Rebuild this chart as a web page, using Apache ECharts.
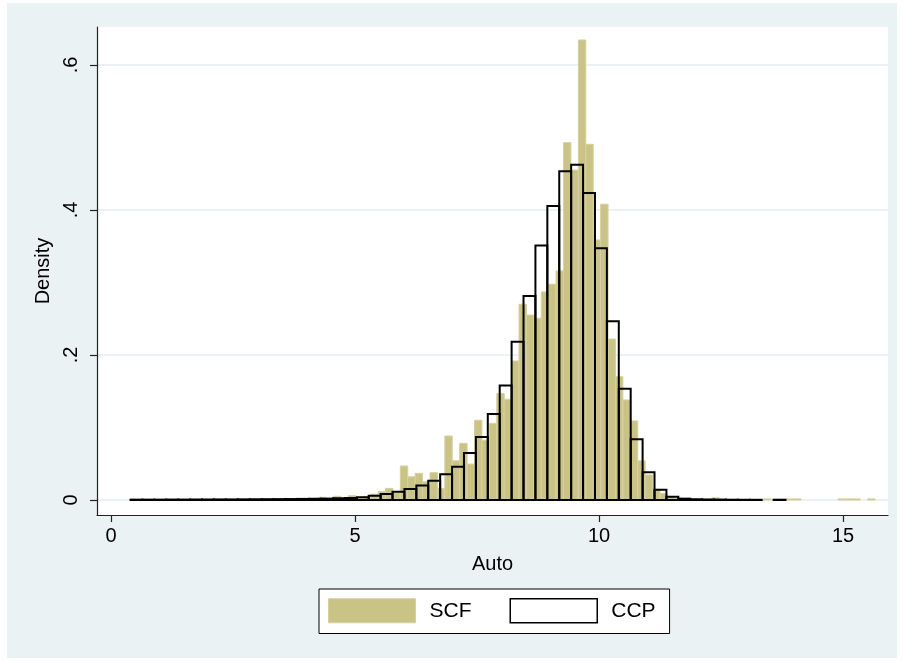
<!DOCTYPE html>
<html>
<head>
<meta charset="utf-8">
<script src="https://cdn.jsdelivr.net/npm/echarts@6/dist/echarts.min.js"></script>
<style>
  html, body { margin: 0; padding: 0; background: #ffffff; }
  #frame { position: absolute; left: 7px; top: 3px; width: 890px; height: 655px; background: #eaf2f3; }
  #chart { position: absolute; left: 0; top: 0; width: 904px; height: 661px; }
</style>
</head>
<body>
<div id="frame"></div>
<div id="chart"></div>
<script>
// Histogram of log auto value: SCF (filled) vs CCP (outlined), density scale.
const seriesNames = ['SCF', 'CCP'];

// SCF bins: start and width in log units, one density per bin
const scfStart = 0.0;
const scfWidth = 0.152;
const scfDensity = [
  0, 0, 0, 0.0004, 0.0004, 0.0005, 0.0004, 0.0005, 0.0005, 0.0006,
  0.0005, 0.0006, 0.0006, 0.0007, 0.0006, 0.0007, 0.0008, 0.0007, 0.0008, 0.0009,
  0.0008, 0.0010, 0.0009, 0.0011, 0.0012, 0.0014, 0.0012, 0.0010, 0.0037, 0.0012,
  0.0051, 0.0015, 0.0060, 0.0030, 0.0050, 0.0080, 0.0115, 0.0160, 0.0100, 0.0469,
  0.0320, 0.0368, 0.0250, 0.0377, 0.0160, 0.0883, 0.0540, 0.0782, 0.0495, 0.1100,
  0.0823, 0.1058, 0.1470, 0.1390, 0.1917, 0.2700, 0.2550, 0.2506, 0.2870, 0.2975,
  0.3160, 0.4929, 0.4550, 0.6345, 0.4906, 0.3586, 0.4080, 0.2220, 0.1700, 0.1380,
  0.1090, 0.0540, 0.0345, 0.0147, 0.0092, 0.0046, 0.0028, 0.0023, 0.0018, 0.0010,
  0.0010, 0.0030, 0.0012, 0.0006, 0.0005, 0.0005, 0.0004, 0.0004, 0.0015, 0,
  0, 0.0015, 0.0015, 0, 0, 0, 0, 0, 0.0015, 0.0015,
  0.0015, 0, 0.0015
];

// CCP bins
const ccpStart = 0.40;
const ccpWidth = 0.244;
const ccpDensity = [
  0.0005, 0.0005, 0.0005, 0.0006, 0.0006, 0.0007, 0.0007, 0.0008, 0.0008, 0.0009,
  0.0010, 0.0011, 0.0012, 0.0013, 0.0015, 0.0017, 0.0019, 0.0024, 0.0029, 0.0037,
  0.0060, 0.0083, 0.0115, 0.0152, 0.0200, 0.0264, 0.0354, 0.0460, 0.0648, 0.0869,
  0.1186, 0.1580, 0.2184, 0.2812, 0.3510, 0.4055, 0.4533, 0.4625, 0.4234, 0.3471,
  0.2465, 0.1536, 0.0837, 0.0382, 0.0142, 0.0046, 0.0018, 0.0010, 0.0007, 0.0005,
  0.0004, 0.0003, 0.0003, 0, 0.0004
];

const xTicks = [0, 5, 10, 15];
const yTicks = [0, 0.2, 0.4, 0.6];

const FONT = "'Liberation Sans', Arial, Helvetica, sans-serif";
const SCF_FILL = '#cac386';
const SCF_EDGE = '#d6d09f';

// [left edge, right edge, density] rows for a custom series
function toBins(start, width, values) {
  return values.map((v, i) => [start + i * width, start + (i + 1) * width, v]);
}

function histRenderer(style) {
  return function (params, api) {
    const v = api.value(2);
    if (!(v > 0)) return null;
    const topLeft = api.coord([api.value(0), v]);
    const bottomRight = api.coord([api.value(1), 0]);
    return {
      type: 'rect',
      shape: {
        x: topLeft[0],
        y: topLeft[1],
        width: bottomRight[0] - topLeft[0],
        height: bottomRight[1] - topLeft[1]
      },
      style: style
    };
  };
}

function fmtY(v) {
  if (v === 0) return '0';
  return String(+v.toFixed(1)).replace(/^0/, '');
}

const chart = echarts.init(document.getElementById('chart'), null, { renderer: 'canvas' });

chart.setOption({
  backgroundColor: 'transparent',
  animation: false,
  textStyle: { fontFamily: FONT },
  grid: {
    left: 97, top: 27, right: 16, bottom: 146,
    show: true, backgroundColor: '#ffffff', borderWidth: 0,
    containLabel: false
  },
  xAxis: {
    type: 'value',
    min: -0.287,
    max: 15.92,
    name: 'Auto',
    nameLocation: 'middle',
    nameGap: 39,
    nameTextStyle: { fontSize: 20, color: '#000', fontFamily: FONT },
    axisLine: { show: true, onZero: false, lineStyle: { color: '#222', width: 1.2 } },
    axisTick: { show: true, length: 7, customValues: xTicks, lineStyle: { color: '#222', width: 1.2 } },
    axisLabel: { customValues: xTicks, fontSize: 20, color: '#000', margin: 11, fontFamily: FONT },
    splitLine: { show: false }
  },
  yAxis: {
    type: 'value',
    min: -0.0207,
    max: 0.6524,
    name: 'Density',
    nameLocation: 'middle',
    nameGap: 44,
    nameTextStyle: { fontSize: 20, color: '#000', fontFamily: FONT },
    axisLine: { show: true, onZero: false, lineStyle: { color: '#222', width: 1.2 } },
    axisTick: { show: true, length: 7, customValues: yTicks, lineStyle: { color: '#222', width: 1.2 } },
    axisLabel: { customValues: yTicks, rotate: 90, fontSize: 20, color: '#000', margin: 16, formatter: fmtY, fontFamily: FONT },
    splitLine: { show: true, lineStyle: { color: '#e6eef0', width: 1.5 } }
  },
  legend: {
    left: 319,
    top: 589,
    orient: 'horizontal',
    itemWidth: 87,
    itemHeight: 24,
    itemGap: 38,
    padding: [9, 14, 10, 9],
    backgroundColor: '#ffffff',
    borderColor: '#000',
    borderWidth: 1,
    selectedMode: false,
    textStyle: { fontSize: 21, color: '#000', fontFamily: FONT, padding: [0, 0, 0, 9] },
    data: [
      { name: seriesNames[0], icon: 'rect', itemStyle: { color: SCF_FILL, borderColor: SCF_EDGE, borderWidth: 1 } },
      { name: seriesNames[1], icon: 'rect', itemStyle: { color: '#ffffff', borderColor: '#000', borderWidth: 1.5 } }
    ]
  },
  series: [
    {
      name: seriesNames[0],
      type: 'custom',
      renderItem: histRenderer({ fill: SCF_FILL, stroke: SCF_EDGE, lineWidth: 1 }),
      encode: { x: [0, 1], y: 2 },
      itemStyle: { color: SCF_FILL },
      data: toBins(scfStart, scfWidth, scfDensity),
      z: 2
    },
    {
      name: seriesNames[1],
      type: 'custom',
      renderItem: histRenderer({ fill: 'none', stroke: '#000', lineWidth: 2 }),
      encode: { x: [0, 1], y: 2 },
      itemStyle: { color: '#ffffff', borderColor: '#000' },
      data: toBins(ccpStart, ccpWidth, ccpDensity),
      z: 3
    }
  ]
});
</script>
</body>
</html>
